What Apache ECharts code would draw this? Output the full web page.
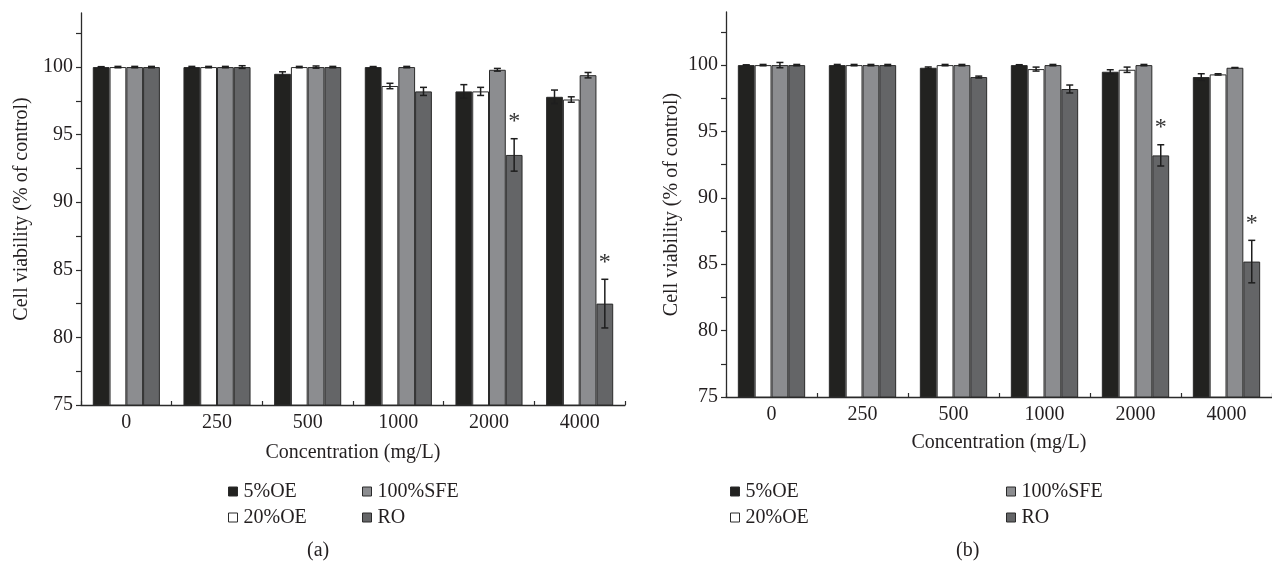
<!DOCTYPE html>
<html>
<head>
<meta charset="utf-8">
<script src="https://cdn.jsdelivr.net/npm/echarts@6/dist/echarts.min.js"></script>
<style>
html,body{margin:0;padding:0;background:#fff;}
#chart{width:1272px;height:573px;}
</style>
</head>
<body>
<div id="chart"></div>
<script>
// ---------- data ----------
var categories = ['0', '250', '500', '1000', '2000', '4000'];
var seriesNames = ['5%OE', '20%OE', '100%SFE', 'RO'];
var yTickValues = [75, 77.5, 80, 82.5, 85, 87.5, 90, 92.5, 95, 97.5, 100, 102.5];
var yLabelValues = [75, 80, 85, 90, 95, 100];

// panel (a)
var a_oe5 = [100, 100, 99.5, 100, 98.2, 97.8];
var a_oe5_err = [0.03, 0.05, 0.15, 0.04, 0.5, 0.5];
var a_oe20 = [100, 100, 100, 98.6, 98.2, 97.6];
var a_oe20_err = [0.05, 0.05, 0.05, 0.2, 0.3, 0.2];
var a_sfe = [100, 100, 100, 100, 99.8, 99.4];
var a_sfe_err = [0.05, 0.05, 0.08, 0.05, 0.1, 0.2];
var a_ro = [100, 100, 100, 98.2, 93.5, 82.5];
var a_ro_err = [0.05, 0.1, 0.05, 0.3, 1.2, 1.8];
var a_sig = [0, 0, 0, 0, 1, 1];

// panel (b)
var b_oe5 = [100, 100, 99.8, 100, 99.5, 99.1];
var b_oe5_err = [0.02, 0.05, 0.06, 0.03, 0.15, 0.25];
var b_oe20 = [100, 100, 100, 99.7, 99.65, 99.3];
var b_oe20_err = [0.05, 0.05, 0.05, 0.15, 0.2, 0.05];
var b_sfe = [100, 100, 100, 100, 100, 99.8];
var b_sfe_err = [0.2, 0.05, 0.05, 0.05, 0.05, 0.02];
var b_ro = [100, 100, 99.1, 98.2, 93.2, 85.2];
var b_ro_err = [0.05, 0.05, 0.07, 0.3, 0.8, 1.6];
var b_sig = [0, 0, 0, 0, 1, 1];

// ---------- styling ----------
var FONT = '"Liberation Serif", "DejaVu Serif", serif';
var FS = 20;
var TXT = '#231f20';
var colors = ['#222220', '#ffffff', '#8c8d90', '#646567'];
var GAP = 0.26;

var panels = [
  {vals: [a_oe5, a_oe20, a_sfe, a_ro], errs: [a_oe5_err, a_oe20_err, a_sfe_err, a_ro_err], sig: a_sig},
  {vals: [b_oe5, b_oe20, b_sfe, b_ro], errs: [b_oe5_err, b_oe20_err, b_sfe_err, b_ro_err], sig: b_sig}
];

var grids = [
  {left: 81, top: 13, width: 544, bottom: 168},
  {left: 726, top: 12, width: 548, bottom: 176}
];

function makeX(gi) {
  return {
    type: 'category', gridIndex: gi, data: categories,
    name: 'Concentration (mg/L)', nameLocation: 'middle', nameGap: gi === 0 ? 38 : 36,
    nameTextStyle: {fontFamily: FONT, fontSize: FS, color: TXT},
    axisLine: {lineStyle: {color: '#2b2b2b', width: 1.3}},
    axisTick: {show: true, inside: true, length: 4, interval: 0, lineStyle: {color: '#2b2b2b', width: 1.2}},
    axisLabel: {fontFamily: FONT, fontSize: FS, color: TXT, margin: 8, interval: 0},
    splitLine: {show: false}
  };
}
function makeY(gi) {
  return {
    type: 'value', gridIndex: gi, min: 75, max: 104, interval: 2.5,
    name: 'Cell viability (% of control)', nameLocation: 'middle', nameGap: gi === 0 ? 49 : 44,
    nameTextStyle: {fontFamily: FONT, fontSize: FS, color: TXT},
    axisLine: {show: true, lineStyle: {color: '#2b2b2b', width: 1.3}},
    axisTick: {show: true, length: 5, customValues: yTickValues, lineStyle: {color: '#2b2b2b', width: 1.2}},
    axisLabel: {fontFamily: FONT, fontSize: FS, color: TXT, margin: 8, customValues: yLabelValues},
    splitLine: {show: false}
  };
}

var series = [];
panels.forEach(function (p, gi) {
  seriesNames.forEach(function (nm, k) {
    series.push({
      name: nm, type: 'bar', xAxisIndex: gi, yAxisIndex: gi,
      data: p.vals[k], barGap: '0%', barCategoryGap: (GAP * 100) + '%',
      itemStyle: {color: colors[k], borderColor: '#2a2a2a', borderWidth: 1},
      emphasis: {disabled: true}, silent: true, z: 2
    });
  });
  seriesNames.forEach(function (nm, k) {
    var d = p.vals[k].map(function (v, i) { return [i, v, p.errs[k][i], k === 3 ? p.sig[i] : 0]; });
    series.push({
      type: 'custom', xAxisIndex: gi, yAxisIndex: gi, silent: true, z: 5,
      data: d,
      renderItem: (function (k) {
        return function (params, api) {
          var ci = api.value(0), v = api.value(1), e = api.value(2), s = api.value(3);
          var band = api.size([1, 0])[0];
          var bw = band * (1 - GAP) / 4;
          var c = api.coord([ci, v]);
          var x = c[0] + (k - 1.5) * bw;
          var hi = api.coord([ci, v + e])[1];
          var lo = api.coord([ci, v - e])[1];
          var st = {stroke: '#1e1e1e', lineWidth: 1.5};
          var ch = [
            {type: 'line', shape: {x1: x, y1: hi, x2: x, y2: lo}, style: st},
            {type: 'line', shape: {x1: x - 3.5, y1: hi, x2: x + 3.5, y2: hi}, style: st},
            {type: 'line', shape: {x1: x - 3.5, y1: lo, x2: x + 3.5, y2: lo}, style: st}
          ];
          if (s) {
            ch.push({type: 'text', x: x, y: hi - 5, style: {text: '*', fontFamily: FONT, fontSize: 24, fill: '#333', align: 'center', verticalAlign: 'bottom'}});
          }
          return {type: 'group', children: ch};
        };
      })(k)
    });
  });
});

function legend(names, left) {
  return {
    data: names, orient: 'vertical', left: left, top: 476, icon: 'rect',
    itemWidth: 9, itemHeight: 9, itemGap: 5, selectedMode: false,
    itemStyle: {borderColor: '#2a2a2a', borderWidth: 1},
    textStyle: {fontFamily: FONT, fontSize: FS, color: TXT, lineHeight: 21, padding: [0, 0, 0, 1]}
  };
}

var option = {
  animation: false,
  backgroundColor: '#ffffff',
  grid: grids,
  xAxis: [makeX(0), makeX(1)],
  yAxis: [makeY(0), makeY(1)],
  legend: [
    legend(['5%OE', '20%OE'], 223),
    legend(['100%SFE', 'RO'], 357),
    legend(['5%OE', '20%OE'], 725),
    legend(['100%SFE', 'RO'], 1001)
  ],
  graphic: [
    {type: 'text', left: 307, top: 541, style: {text: '(a)', fontFamily: FONT, fontSize: FS, fill: TXT}},
    {type: 'text', left: 956, top: 541, style: {text: '(b)', fontFamily: FONT, fontSize: FS, fill: TXT}}
  ],
  series: series
};

var chart = echarts.init(document.getElementById('chart'), null, {renderer: 'canvas'});
chart.setOption(option);
</script>
</body>
</html>
